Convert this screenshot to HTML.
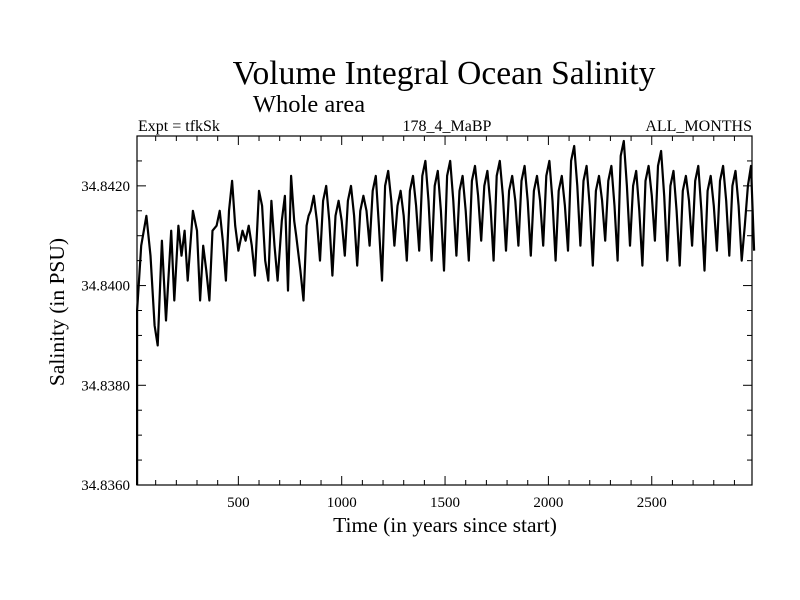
<!DOCTYPE html>
<html><head><meta charset="utf-8"><style>
html,body{margin:0;padding:0;background:#fff}
svg{display:block;font-family:"Liberation Serif",serif}
</style></head><body>
<svg id="chart" width="800" height="600" xmlns="http://www.w3.org/2000/svg">
<rect width="800" height="600" fill="#fff"/>
<text x="444" y="84" font-size="33.5" text-anchor="middle">Volume Integral Ocean Salinity</text>
<text x="309" y="112" font-size="24.5" text-anchor="middle">Whole area</text>
<text x="138" y="131" font-size="16">Expt = tfkSk</text>
<text x="447" y="131" font-size="16" text-anchor="middle">178_4_MaBP</text>
<text x="752" y="131" font-size="16" text-anchor="end">ALL_MONTHS</text>
<text x="445" y="532" font-size="21.5" text-anchor="middle">Time (in years since start)</text>
<text transform="translate(64,312) rotate(-90)" font-size="21.5" text-anchor="middle">Salinity (in PSU)</text>
<g id="axes"></g>
<g id="series"></g>
<rect x="137" y="136" width="615" height="349" fill="none" stroke="#000" stroke-width="1.2"/>
</svg>
<script>
const xTicks=[500,1000,1500,2000,2500];
const yTicks=[34.836,34.838,34.840,34.842];
const yTickLabels=["34.8360","34.8380","34.8400","34.8420"];
const years=[0,5,10,30,55,75,95,110,130,150,175,190,210,225,240,255,280,300,315,330,345,360,375,395,410,425,440,455,470,485,500,520,535,550,565,580,600,615,630,645,660,675,690,710,725,740,755,770,780,800,815,830,840,
850,865,880,895,910,925,940,955,970,985,1000,1015,1030,1045,1060,1075,1090,1105,1120,1135,1150,1165,1180,1195,1210,1225,1240,1255,1270,1285,1300,1315,1330,1345,1360,1375,1390,1405,1420,1435,1450,1465,1480,1495,1510,1525,1540,1555,1570,1585,1600,1615,1630,1645,1660,1675,1690,1705,1720,1735,1750,1765,1780,1795,1810,1825,1840,1855,1870,1885,1900,1915,1930,1945,1960,1975,1990,2005,2020,2035,2050,2065,2080,2095,2110,2125,2140,2155,2170,2185,2200,2215,2230,2245,2260,2275,2290,2305,2320,2335,2350,2365,2380,2395,2410,2425,2440,2455,2470,2485,2500,2515,2530,2545,2560,2575,2590,2605,2620,2635,2650,2665,2680,2695,2710,2725,2740,2755,2770,2785,2800,2815,2830,2845,2860,2875,2890,2905,2920,2935,2950,2965,2980,2995];
const salAnom=[-40,-20,-5,8,14,6,-8,-12,9,-7,11,-3,12,6,11,1,15,11,-3,8,3,-3,11,12,15,9,1,15,21,12,7,11,9,12,8,2,19,16,5,1,17,8,1,13,18,-1,22,13,10,3,-3,12,14,
15,18,13,5,17,20,13,2,14,17,13,6,17,20,14,4,15,18,15,8,19,22,12,1,20,23,17,8,16,19,14,5,19,22,16,7,22,25,17,5,20,23,15,3,22,25,17,6,19,22,15,5,21,24,18,9,20,23,16,5,22,25,18,7,19,22,17,8,21,24,17,6,19,22,17,8,22,25,17,5,19,22,16,7,25,28,20,8,21,24,16,4,19,22,17,9,21,24,16,5,26,29,20,8,20,23,15,4,21,24,18,9,24,27,18,5,20,23,15,4,19,22,17,8,21,24,15,3,19,22,16,7,21,24,17,6,20,23,16,5,12,20,24,7];
const salBase=34.840;
const NS="http://www.w3.org/2000/svg";
const L=137,R=752,T=136,B=485;
const xMin=0,xMax=2985,yMin=34.836,yMax=34.843;
function sx(v){return 135+(v-xMin)*(R-135)/(xMax-xMin);}
function sy(v){return B-(v-yMin)*(B-T)/(yMax-yMin);}
const axes=document.getElementById('axes');
function line(x1,y1,x2,y2,name){const l=document.createElementNS(NS,'line');l.setAttribute('x1',x1);l.setAttribute('y1',y1);l.setAttribute('x2',x2);l.setAttribute('y2',y2);l.setAttribute('stroke','#000');l.setAttribute('stroke-width','1');


axes.appendChild(l);}
for(let v=100;v<3000;v+=100){const x=sx(v);const major=v%500===0;const len=major?9:5;line(x,B,x,B-len,'x-tick');line(x,T,x,T+len,'x-tick');}
for(let v=34.8365;v<34.8431;v+=0.0005){const y=sy(v);const major=Math.abs((v-34.836)/0.002-Math.round((v-34.836)/0.002))<0.01;const len=major?9:5;line(L,y,L+len,y,'y-tick');line(R,y,R-len,y,'y-tick');}
xTicks.forEach(v=>{const t=document.createElementNS(NS,'text');t.setAttribute('x',sx(v));t.setAttribute('y',B+22);t.setAttribute('font-size','15');t.setAttribute('text-anchor','middle');t.textContent=v;


axes.appendChild(t);});
yTicks.forEach((v,i)=>{const t=document.createElementNS(NS,'text');t.setAttribute('x',L-7);t.setAttribute('y',sy(v)+5);t.setAttribute('font-size','15');t.setAttribute('text-anchor','end');t.textContent=yTickLabels[i];


axes.appendChild(t);});
const pts=years.map((yr,i)=>sx(Math.max(yr,10)).toFixed(1)+','+sy(salBase+salAnom[i]/10000).toFixed(1)).join(' ');
const pl=document.createElementNS(NS,'polyline');
pl.setAttribute('points',pts);pl.setAttribute('fill','none');pl.setAttribute('stroke','#000');pl.setAttribute('stroke-width','2.2');pl.setAttribute('stroke-linejoin','round');


document.getElementById('series').appendChild(pl);
</script>
</body></html>
